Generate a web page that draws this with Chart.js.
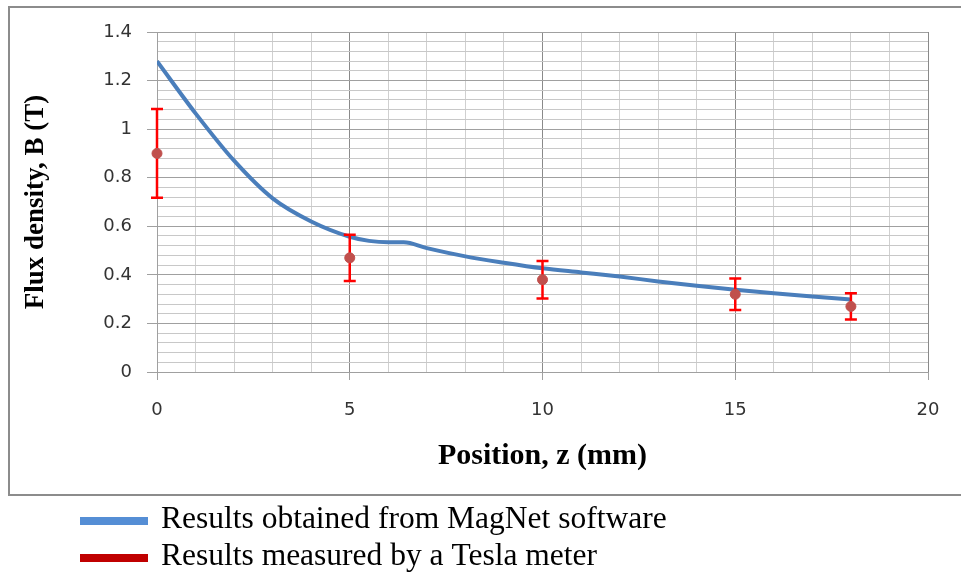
<!DOCTYPE html>
<html>
<head>
<meta charset="utf-8">
<script src="https://cdn.jsdelivr.net/npm/chart.js@4.4.1/dist/chart.umd.min.js"></script>
<style>
  html, body { margin: 0; padding: 0; background: #fff; }
  #wrap { width: 961px; height: 574px; position: relative; }
</style>
</head>
<body>
<div id="wrap"><canvas id="fluxChart"></canvas></div>
<script>
// MagNet simulation curve
const simZ = [0, 1, 2, 3, 4, 5, 5.5, 6, 6.4, 7, 8, 9, 10, 11, 12, 13, 14, 15, 16, 17, 18];
const simB = [1.28, 1.065, 0.87, 0.715, 0.62, 0.557, 0.54, 0.534, 0.534, 0.51, 0.476, 0.45, 0.427, 0.41, 0.393, 0.373, 0.355, 0.339, 0.324, 0.311, 0.299];

// Tesla meter measurements with error bars
const measZ = [0, 5, 10, 15, 18];
const measB = [0.9, 0.47, 0.38, 0.32, 0.27];
const measErr = [0.183, 0.095, 0.077, 0.065, 0.054];

const xTickLabels = ['0', '5', '10', '15', '20'];
const yTickLabels = ['0', '0.2', '0.4', '0.6', '0.8', '1', '1.2', '1.4'];
const legendLabels = ['Results obtained from MagNet software', 'Results measured by a Tesla meter'];

function majorIndex(value, step) {
    const k = Math.round(value / step * 1000) / 1000;
    return Number.isInteger(k) ? k : -1;
}

// error bars drawn right after the blue line, below the markers
const errorBars = {
    id: 'errorBars',
    afterDatasetDraw(chart, args) {
        if (args.index !== 0) return;
        const { ctx, scales: { x, y } } = chart;
        ctx.save();
        ctx.strokeStyle = '#ff0000';
        ctx.lineWidth = 2.5;
        measZ.forEach((z, i) => {
            const px = x.getPixelForValue(z);
            const top = y.getPixelForValue(measB[i] + measErr[i]);
            const bot = y.getPixelForValue(measB[i] - measErr[i]);
            ctx.beginPath();
            ctx.moveTo(px, top); ctx.lineTo(px, bot);
            ctx.moveTo(px - 6, top); ctx.lineTo(px + 6, top);
            ctx.moveTo(px - 6, bot); ctx.lineTo(px + 6, bot);
            ctx.stroke();
        });
        ctx.restore();
    }
};

// outer frame and the legend underneath it
const frameLegend = {
    id: 'frameLegend',
    beforeDraw(chart) {
        const ctx = chart.ctx;
        ctx.save();
        ctx.fillStyle = '#fff';
        ctx.fillRect(0, 0, chart.width, chart.height);
        ctx.strokeStyle = '#8c8c8c';
        ctx.lineWidth = 2;
        ctx.strokeRect(9, 7, 1000, 488);
        ctx.restore();
    },
    afterDraw(chart) {
        const ctx = chart.ctx;
        const colors = ['#558ed5', '#c00000'];
        const rows = [521, 558];
        ctx.save();
        ctx.font = '31.5px "Liberation Serif", "Times New Roman", serif';
        ctx.textBaseline = 'alphabetic';
        legendLabels.forEach((label, i) => {
            ctx.fillStyle = colors[i];
            ctx.fillRect(80, rows[i] - 4, 68, 8);
            ctx.fillStyle = '#000';
            ctx.fillText(label, 161, rows[i] + 7);
        });
        ctx.restore();
    }
};

const ctxFlux = document.getElementById('fluxChart').getContext('2d');
new Chart(ctxFlux, {
    type: 'line',
    data: {
        datasets: [
            {
                label: legendLabels[0],
                data: simZ.map((z, i) => ({ x: z, y: simB[i] })),
                borderColor: '#4a7ebb',
                borderWidth: 4,
                pointRadius: 0,
                cubicInterpolationMode: 'monotone',
                order: 2
            },
            {
                label: legendLabels[1],
                data: measZ.map((z, i) => ({ x: z, y: measB[i] })),
                showLine: false,
                clip: false,
                pointRadius: 5,
                pointBackgroundColor: '#c0504d',
                pointBorderColor: '#c0504d',
                order: 1
            }
        ]
    },
    options: {
        responsive: true,
        maintainAspectRatio: false,
        animation: false,
        layout: { padding: { top: 32, right: 33, bottom: 79, left: 0 } },
        plugins: {
            legend: { display: false },
            tooltip: { enabled: false }
        },
        scales: {
            x: {
                type: 'linear',
                min: 0,
                max: 20,
                afterFit: (s) => { s.height = 123; },
                ticks: {
                    stepSize: 1,
                    autoSkip: false,
                    maxRotation: 0,
                    padding: 20,
                    color: '#333',
                    font: { family: 'DejaVu Sans', size: 18 },
                    callback: (value) => {
                        const k = majorIndex(value, 5);
                        return k >= 0 ? xTickLabels[k] : '';
                    }
                },
                grid: {
                    tickLength: 8,
                    color: (c) => majorIndex(c.tick.value, 5) >= 0 ? '#8a8a8a' : '#d0d0d0',
                    tickColor: (c) => majorIndex(c.tick.value, 5) >= 0 ? '#a0a0a0' : 'rgba(0,0,0,0)'
                },
                border: { color: '#a0a0a0' },
                title: {
                    display: true,
                    text: 'Position, z (mm)',
                    color: '#000',
                    font: { family: 'Liberation Serif', size: 30, weight: 'bold' },
                    padding: { top: 0, bottom: 21 }
                }
            },
            y: {
                min: 0,
                max: 1.4,
                afterFit: (s) => { s.width = 157; },
                ticks: {
                    stepSize: 0.04,
                    autoSkip: false,
                    padding: 15,
                    color: '#333',
                    font: { family: 'DejaVu Sans', size: 18 },
                    callback: (value) => {
                        const k = majorIndex(value, 0.2);
                        return k >= 0 ? yTickLabels[k] : '';
                    }
                },
                grid: {
                    tickLength: 10,
                    color: (c) => majorIndex(c.tick.value, 0.2) >= 0 ? '#a0a0a0' : '#c8c8c8',
                    tickColor: (c) => majorIndex(c.tick.value, 0.2) >= 0 ? '#a0a0a0' : 'rgba(0,0,0,0)'
                },
                border: { color: '#a0a0a0' },
                title: {
                    display: true,
                    text: 'Flux density, B (T)',
                    color: '#000',
                    font: { family: 'Liberation Serif', size: 27, weight: 'bold' },
                    padding: { top: 20, bottom: 0 }
                }
            }
        }
    },
    plugins: [errorBars, frameLegend]
});
</script>
</body>
</html>
